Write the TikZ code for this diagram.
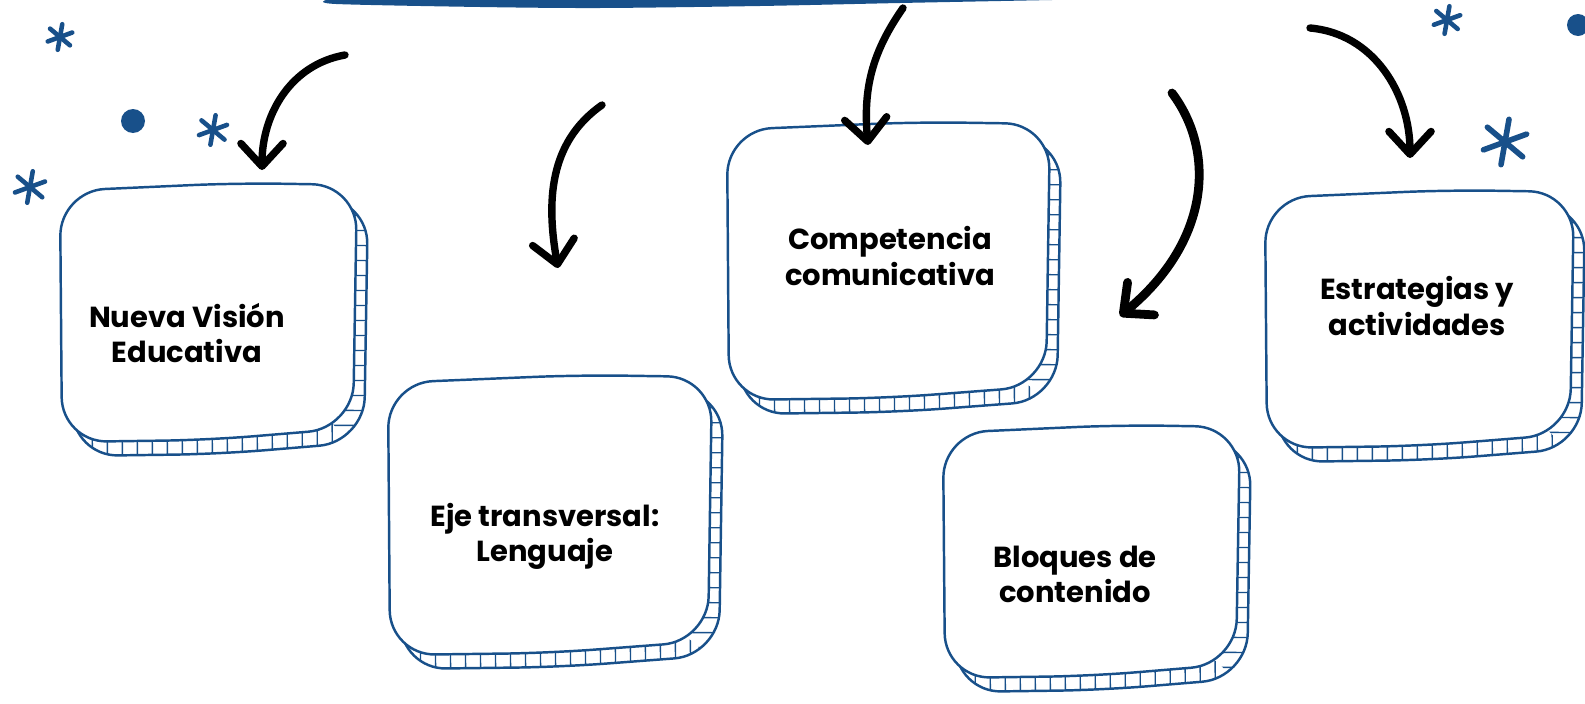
\documentclass[tikz,border=0pt]{standalone}
\usepackage{fontspec}
\setmainfont{Poppins}
\usetikzlibrary{arrows.meta}

\definecolor{inkblue}{RGB}{24,80,138}

\tikzset{
  boxline/.style={draw=inkblue, line width=1.4pt, rounded corners=0.9cm},
  hatchline/.style={draw=inkblue, line width=0.8pt},
  boxtext/.style={font=\bfseries\fontsize{16.5}{20}\selectfont, align=center, inner sep=0pt},
  swoop/.style={draw=black, line width=4.2pt, line cap=round,
    -{Straight Barb[length=13pt,width=24pt,round]}},
  starline/.style={draw=inkblue, line width=2.6pt, line cap=round},
  sparkle/.pic={
    \draw[starline] (80:#1) -- (260:#1);
    \draw[starline] (20:#1) -- (200:#1);
    \draw[starline] (140:#1) -- (320:#1);
  }
}

% wobbly outline from west, north, east, south (pixels, y down)
\newcommand{\blobpath}[4]{({(#1+#3)/2+30},{-#2}) -- (#3,{-#2-2}) -- ({#3-4},{-#4+14})
  -- ({(#1+#3)/2},{-#4+2}) -- ({#1+2},{-#4}) -- (#1,{-#2-8}) -- cycle}

\newcommand{\sketchbox}[4]{%
  % ticks under the bottom edge
  \begin{scope}
    \clip[rounded corners=0.9cm, shift={(11,-14)}] \blobpath{#1}{#2}{#3}{#4};
    \clip ({(#1+#3)/2},{-(#2+#4)/2}) -- ({#3+40},{-#4-40}) -- ({#1-60},{-#4-40}) -- ({#1-60},{-(#2+#4)/2}) -- cycle;
    \foreach \t in {0,15,...,330}
      \draw[hatchline] ({#1+\t},{-#2}) -- ++(3,-340);
  \end{scope}
  % ticks beside the right edge
  \begin{scope}
    \clip[rounded corners=0.9cm, shift={(11,-14)}] \blobpath{#1}{#2}{#3}{#4};
    \clip ({(#1+#3)/2},{-(#2+#4)/2}) -- ({#3+40},{-#4-40}) -- ({#3+40},{-#2+40}) -- ({(#1+#3)/2},{-#2+40}) -- cycle;
    \foreach \t in {0,15,...,300}
      \draw[hatchline] ({#1},{-#2-\t}) -- ++(360,-3);
  \end{scope}
  \draw[boxline, shift={(11,-14)}] \blobpath{#1}{#2}{#3}{#4};
  \draw[boxline, fill=white] \blobpath{#1}{#2}{#3}{#4};
}

\begin{document}
\begin{tikzpicture}[x=0.02cm, y=0.02cm]
  \useasboundingbox (0,0) rectangle (1585,-703);
  \clip (0,0) rectangle (1585,-703);

  % banner at the top edge
  \fill[inkblue] plot[smooth] coordinates {(326,0) (336,-4) (480,-7) (600,-8) (760,-6) (900,-3) (1052,0)} -- cycle;

  % stars and dots
  \pic at (60,-37)   {sparkle=13};
  \pic at (213,-130) {sparkle=15};
  \pic at (30,-187)  {sparkle=16};
  \pic at (1447,-20) {sparkle=14};
  \pic[starline/.append style={line width=3.2pt}] at (1505,-142) {sparkle=23};
  \fill[inkblue] (133,-121) circle (12);
  \fill[inkblue] (1578,-25) circle (11);

  % boxes
  \sketchbox{60}{183}{357}{442}
  \sketchbox{388}{375}{712}{655}
  \sketchbox{727}{122}{1050}{400}
  \sketchbox{943}{425}{1240}{678}
  \sketchbox{1265}{190}{1574}{448}

  \node[boxtext] (vision)      at (187,-333)  {Nueva Visión\\Educativa};
  \node[boxtext] (eje)         at (545,-536)  {Eje transversal:\\Lenguaje};
  \node[boxtext] (competencia) at (890,-256)  {Competencia\\comunicativa};
  \node[boxtext] (bloques)     at (1075,-574) {Bloques de\\contenido};
  \node[boxtext] (estrategias) at (1417,-306) {Estrategias y\\actividades};

  % arrows
  \coordinate (s1) at (345,-55);   \coordinate (t1) at (262,-170);
  \coordinate (s2) at (602,-105);  \coordinate (t2) at (558,-268);
  \coordinate (s3) at (903,-8);    \coordinate (t3) at (868,-145);
  \coordinate (s4) at (1172,-93);  \coordinate (t4) at (1120,-316);
  \coordinate (s5) at (1310,-28);  \coordinate (t5) at (1410,-158);

  \draw[swoop] (s1) to[out=190, in=90] (t1);
  \draw[swoop] (s2) to[out=215, in=100] (t2);
  \draw[swoop] (s3) to[out=235, in=95] (t3);
  \draw[swoop, line width=5pt] (s4) .. controls (1215,-150) and (1212,-240) .. (t4);
  \draw[swoop] (s5) to[out=-5, in=90] (t5);
\end{tikzpicture}
\end{document}
